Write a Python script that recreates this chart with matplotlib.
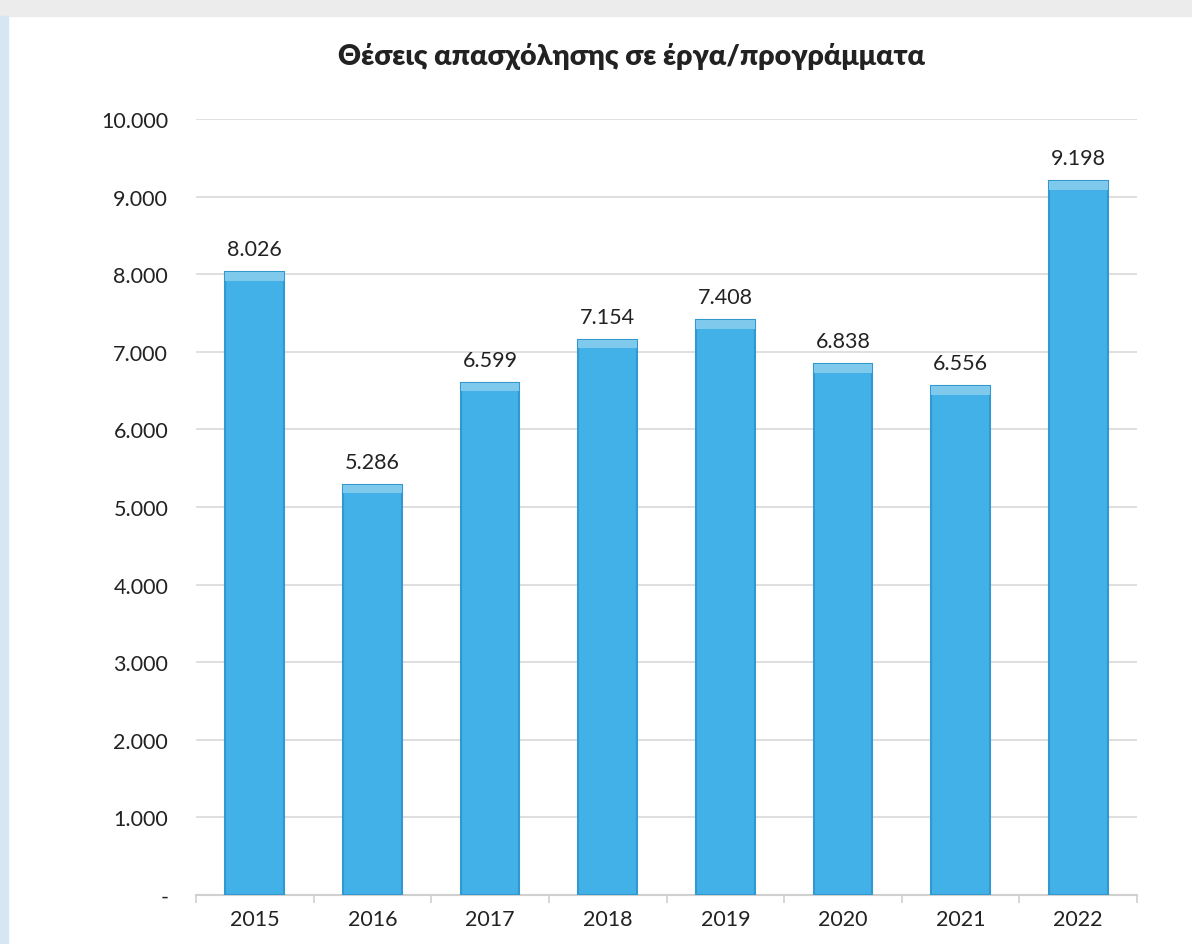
import matplotlib.pyplot as plt
import numpy as np
from matplotlib.patches import Rectangle

years = ["2015", "2016", "2017", "2018", "2019", "2020", "2021", "2022"]
jobs = [8026, 5286, 6599, 7154, 7408, 6838, 6556, 9198]
yticks = [0, 1000, 2000, 3000, 4000, 5000, 6000, 7000, 8000, 9000, 10000]
title = "Θέσεις απασχόλησης σε έργα/προγράμματα"

plt.rcParams['font.family'] = ['Lato', 'DejaVu Sans']


def fmt(v):
    # greek thousands separator
    if v == 0:
        return "-"
    return f"{v:,}".replace(",", ".")


fig = plt.figure(figsize=(11.92, 9.45), dpi=100)
fig.patch.set_facecolor("white")

# frame shadow on top and left
fig.patches.append(Rectangle((0, 0.982), 1, 0.018, transform=fig.transFigure,
                             color="#ececec", zorder=0))
fig.patches.append(Rectangle((0, 0), 0.007, 0.982, transform=fig.transFigure,
                             color="#d6e6f3", zorder=0))

ax = fig.add_axes([0.1644, 0.0519, 0.7895, 0.8211])
x = np.arange(len(years))

ax.bar(x, jobs, width=0.5, color="#41b1e7", edgecolor="#3199cf", linewidth=1.5, zorder=3)
# light bevel cap on each bar
cap = 110
ax.bar(x, [cap] * len(jobs), bottom=[v - cap for v in jobs], width=0.5,
       color="#7fcaec", linewidth=0, zorder=4)

for xi, v in zip(x, jobs):
    ax.text(xi, v + 170, fmt(v), ha="center", va="bottom", fontsize=15.5, color="#222222")

ax.set_ylim(0, 10000)
ax.set_xlim(-0.5, len(years) - 0.5)
ax.set_yticks(yticks)
ax.set_yticklabels([fmt(v) for v in yticks], fontsize=15.5, color="#222222")
ax.set_xticks(x)
ax.set_xticklabels(years, fontsize=15.5, color="#222222")
ax.tick_params(axis="y", length=0, pad=20)
ax.tick_params(axis="x", length=0, pad=10)

# category boundary ticks
ax.set_xticks(np.arange(-0.5, len(years)), minor=True)
ax.tick_params(axis="x", which="minor", length=6, color="#d0d0d0", width=1.2)

ax.grid(axis="y", color="#d9d9d9", linewidth=1.2, zorder=0)
ax.set_axisbelow(True)
for s in ["top", "right", "left"]:
    ax.spines[s].set_visible(False)
ax.spines["bottom"].set_color("#d0d0d0")
ax.spines["bottom"].set_linewidth(1.5)

fig.text(0.53, 0.94, title, ha="center", va="center", fontsize=20.5, fontweight="heavy",
         color="#222222")

fig.savefig("out.png", dpi=100)
